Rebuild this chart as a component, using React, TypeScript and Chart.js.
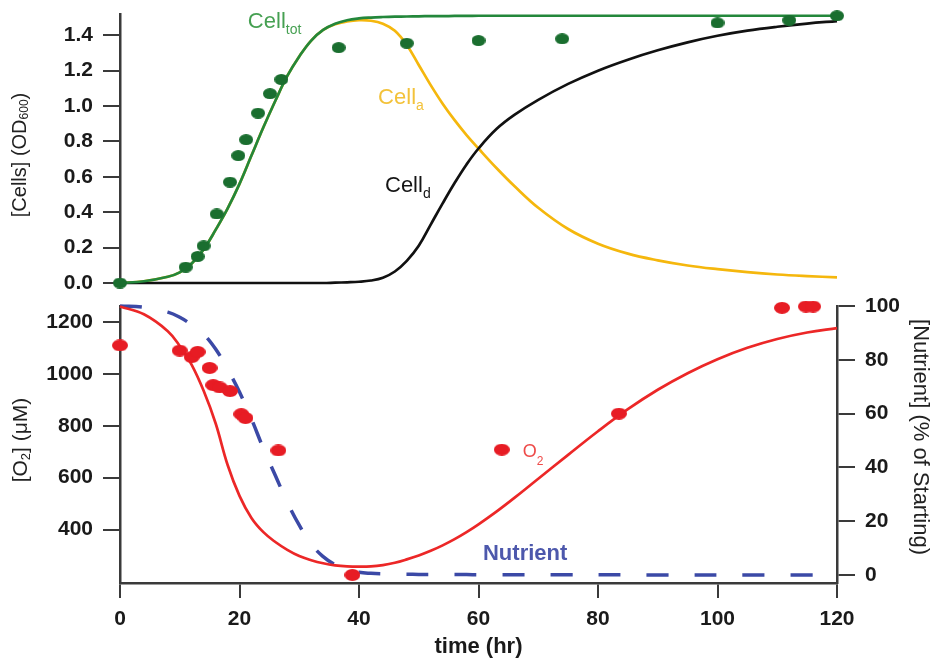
import React, { useEffect, useRef } from 'react';
import { Chart, registerables } from 'chart.js';

Chart.register(...registerables);

// ---------- DATA ----------
// model time grid (hr)
const modelTime = [0, 4, 8, 10, 12, 14, 16, 18, 20, 22, 24, 26, 28, 30, 32, 34, 36, 38, 40, 42, 44, 46, 48, 50, 52, 54, 56, 58, 60, 63, 66, 70, 75, 80, 85, 90, 95, 100, 105, 110, 115, 120];

// model curves, top panel (OD600)
const cellTotModel = [0, 0.01, 0.035, 0.06, 0.11, 0.19, 0.30, 0.42, 0.56, 0.72, 0.88, 1.03, 1.17, 1.28, 1.37, 1.43, 1.465, 1.485, 1.495, 1.5, 1.503, 1.505, 1.506, 1.507, 1.508, 1.508, 1.509, 1.509, 1.51, 1.51, 1.51, 1.51, 1.51, 1.51, 1.51, 1.51, 1.51, 1.51, 1.51, 1.51, 1.51, 1.51];
const cellAModel = [0, 0.01, 0.035, 0.06, 0.11, 0.19, 0.30, 0.42, 0.56, 0.72, 0.88, 1.03, 1.17, 1.28, 1.37, 1.43, 1.462, 1.478, 1.485, 1.482, 1.465, 1.425, 1.345, 1.232, 1.118, 1.013, 0.92, 0.836, 0.76, 0.65, 0.548, 0.425, 0.305, 0.222, 0.166, 0.128, 0.099, 0.078, 0.061, 0.048, 0.039, 0.032];
const cellDModel = [0, 0, 0, 0, 0, 0, 0, 0, 0, 0, 0, 0, 0, 0, 0, 0, 0.002, 0.004, 0.007, 0.014, 0.03, 0.065, 0.125, 0.21, 0.33, 0.45, 0.565, 0.67, 0.76, 0.87, 0.95, 1.035, 1.125, 1.2, 1.262, 1.315, 1.36, 1.397, 1.426, 1.448, 1.466, 1.48];

// model curves, bottom panel
const o2Model = [1260, 1230, 1165, 1108, 1035, 935, 810, 650, 530, 445, 390, 352, 322, 298, 282, 270, 262, 258, 257, 258, 263, 272, 285, 300, 318, 339, 363, 390, 420, 469, 522, 596, 688, 779, 864, 939, 1003, 1057, 1101, 1135, 1160, 1177];
const nutrientModel = [100, 99.5, 97.7, 95.8, 93, 89.5, 84, 76.5, 68, 58, 47, 37, 27, 18.5, 11.5, 6.8, 3.8, 2.0, 1.0, 0.6, 0.4, 0.3, 0.25, 0.2, 0.18, 0.16, 0.14, 0.12, 0.1, 0.08, 0.06, 0.05, 0.04, 0.03, 0.02, 0.02, 0.01, 0.01, 0.01, 0, 0, 0];

// measured points
const cellObsTime = [0, 11, 13, 14, 16.2, 18.4, 19.8, 21.1, 23.1, 25.1, 27, 36.6, 48, 60, 74, 100, 112, 120];
const cellObsOD = [0.0, 0.09, 0.15, 0.21, 0.39, 0.57, 0.72, 0.81, 0.96, 1.07, 1.15, 1.33, 1.355, 1.37, 1.38, 1.47, 1.485, 1.51];

const o2ObsTime = [0, 10, 12, 13, 15, 15.6, 16.7, 18.4, 20.3, 21, 26.5, 38.9, 63.9, 83.5, 110.8, 114.8, 116];
const o2ObsValue = [1110, 1090, 1065, 1085, 1023, 957, 948, 934, 845, 830, 705, 225, 708, 847, 1255, 1260, 1260];

// tick labels
const timeTicks = [0, 20, 40, 60, 80, 100, 120];
const cellTicks = [0, 0.2, 0.4, 0.6, 0.8, 1.0, 1.2, 1.4];
const o2Ticks = [400, 600, 800, 1000, 1200];
const nutrientTicks = [0, 20, 40, 60, 80, 100];

// ---------- STYLE ----------
const FONT = "'Liberation Sans', Arial, Helvetica, sans-serif";
const AXIS = '#3a3a3a';
const TEXT = '#1a1a1a';
const GREEN_LINE = '#23873b';
const GREEN_DOT = '#1a6e2f';
const YELLOW = '#f5b70d';
const BLACK = '#111111';
const RED_LINE = '#ec2727';
const RED_DOT = '#e71c24';
const BLUE = '#3b49a6';

const pts = (xs: number[], ys: number[]) => xs.map((x, i) => ({ x, y: ys[i] }));

function makeDot(color: string, w: number, h: number) {
  const c = document.createElement('canvas');
  c.width = w;
  c.height = h;
  const g = c.getContext('2d')!;
  g.fillStyle = color;
  g.beginPath();
  g.ellipse(w / 2, h / 2, w / 2, h / 2, 0, 0, Math.PI * 2);
  g.fill();
  return c;
}

type Part = [string, boolean?];
interface RichItem {
  parts: Part[];
  x: number;
  y: number;
  xScale?: string;
  yScale?: string;
  size: number;
  weight?: string;
  color: string;
  rotation?: number;
  align?: 'left' | 'center';
  baseline?: CanvasTextBaseline;
  subScale?: number;
  subOffset?: number;
}

const richTextPlugin = {
  id: 'richText',
  afterDatasetsDraw(chart: any, _args: any, opts: any) {
    const ctx: CanvasRenderingContext2D = chart.ctx;
    const items: RichItem[] = (opts && opts.items) || [];
    for (const it of items) {
      const x = it.xScale ? chart.scales[it.xScale].getPixelForValue(it.x) : it.x;
      const y = it.yScale ? chart.scales[it.yScale].getPixelForValue(it.y) : it.y;
      const w = it.weight || 'normal';
      const mainFont = `${w} ${it.size}px ${FONT}`;
      const subSize = Math.round(it.size * (it.subScale ?? 0.62));
      const subFont = `${w} ${subSize}px ${FONT}`;
      const subOff = it.subOffset ?? it.size * 0.28;
      let total = 0;
      const widths = it.parts.map(([t, s]) => {
        ctx.font = s ? subFont : mainFont;
        const m = ctx.measureText(t).width;
        total += m;
        return m;
      });
      ctx.save();
      ctx.translate(x, y);
      ctx.rotate(it.rotation || 0);
      ctx.fillStyle = it.color;
      ctx.textAlign = 'left';
      ctx.textBaseline = it.baseline || 'alphabetic';
      let cx = it.align === 'center' ? -total / 2 : 0;
      it.parts.forEach(([t, s], i) => {
        ctx.font = s ? subFont : mainFont;
        ctx.fillText(t, cx, s ? subOff : 0);
        cx += widths[i];
      });
      ctx.restore();
    }
  },
};

const tickFont = { family: FONT, size: 21, weight: 'bold' as const };

function yAxis(position: 'left' | 'right', min: number, max: number, ticks: number[], width: number, fmt: (v: number) => string, tickLen: number) {
  return {
    type: 'linear' as const,
    position,
    min,
    max,
    afterBuildTicks: (s: any) => {
      s.ticks = ticks.map((v) => ({ value: v }));
    },
    afterFit: (s: any) => {
      s.width = width;
      s.paddingTop = 0;
      s.paddingBottom = 0;
    },
    ticks: { callback: (v: any) => fmt(Number(v)), padding: 10, color: TEXT, font: tickFont },
    grid: { display: true, drawOnChartArea: false, drawTicks: true, tickLength: tickLen, tickWidth: 2, tickColor: AXIS, color: AXIS, lineWidth: 2 },
    border: { display: true, color: AXIS, width: 2.5 },
    title: { display: false },
  };
}

export default function App() {
  const topRef = useRef<HTMLCanvasElement>(null);
  const botRef = useRef<HTMLCanvasElement>(null);

  useEffect(() => {
    const greenDot = makeDot(GREEN_DOT, 14, 11);
    const redDot = makeDot(RED_DOT, 16, 12);
    const line = { pointRadius: 0, borderWidth: 2.7, tension: 0.4, clip: false as any, fill: false };

    const top = new Chart(topRef.current!, {
      type: 'line',
      data: {
        datasets: [
          { label: 'Cell tot (measured)', data: pts(cellObsTime, cellObsOD), showLine: false, pointStyle: greenDot as any, pointRadius: 7, clip: false as any },
          { label: 'Cell tot', data: pts(modelTime, cellTotModel), borderColor: GREEN_LINE, ...line },
          { label: 'Cell d', data: pts(modelTime, cellDModel), borderColor: BLACK, ...line },
          { label: 'Cell a', data: pts(modelTime, cellAModel), borderColor: YELLOW, ...line },
        ],
      },
      options: {
        responsive: false,
        animation: false,
        devicePixelRatio: 1,
        events: [],
        layout: { padding: { left: 0, right: 102, top: 14, bottom: 17 } },
        plugins: {
          legend: { display: false },
          tooltip: { enabled: false },
          richText: {
            items: [
              { parts: [['Cell'], ['tot', true]], xScale: 'x', yScale: 'y', x: 21.4, y: 1.44, size: 22, color: '#46a052', subOffset: 6 },
              { parts: [['Cell'], ['a', true]], xScale: 'x', yScale: 'y', x: 43.2, y: 1.01, size: 22, color: '#f3c23a', subOffset: 6 },
              { parts: [['Cell'], ['d', true]], xScale: 'x', yScale: 'y', x: 44.35, y: 0.514, size: 22, color: '#151515', subOffset: 6 },
              { parts: [['[Cells] (OD'], ['600', true], [')']], x: 20, y: 155, rotation: -Math.PI / 2, align: 'center', baseline: 'middle', size: 20, color: '#222', subOffset: 5 },
            ],
          },
        } as any,
        scales: {
          x: { type: 'linear', min: 0, max: 120, display: false },
          y: yAxis('left', 0, 1.52, cellTicks, 120, (v) => v.toFixed(1), 17),
        },
      },
      plugins: [richTextPlugin],
    });

    const bot = new Chart(botRef.current!, {
      type: 'line',
      data: {
        datasets: [
          { label: 'O2 (measured)', data: pts(o2ObsTime, o2ObsValue), yAxisID: 'y', showLine: false, pointStyle: redDot as any, pointRadius: 8, clip: false as any },
          { label: 'O2', data: pts(modelTime, o2Model), yAxisID: 'y', borderColor: RED_LINE, ...line },
          { label: 'Nutrient', data: pts(modelTime, nutrientModel), yAxisID: 'yR', borderColor: BLUE, borderDash: [22, 26], ...line, borderWidth: 3.5 },
        ],
      },
      options: {
        responsive: false,
        animation: false,
        devicePixelRatio: 1,
        events: [],
        layout: { padding: { left: 0, right: 0, top: 16, bottom: 0 } },
        plugins: {
          legend: { display: false },
          tooltip: { enabled: false },
          richText: {
            items: [
              { parts: [['O'], ['2', true]], xScale: 'x', yScale: 'y', x: 67.4, y: 680, size: 18, color: '#ee4a48', subScale: 0.65, subOffset: 8 },
              { parts: [['Nutrient']], xScale: 'x', yScale: 'yR', x: 60.75, y: 5.6, size: 22, weight: 'bold', color: '#4d58ac' },
              { parts: [['[O'], ['2', true], ['] (\u03bcM)']], x: 21, y: 150, rotation: -Math.PI / 2, align: 'center', baseline: 'middle', size: 21, color: '#222', subOffset: 5 },
              { parts: [['[Nutrient] (% of Starting)']], x: 920, y: 147, rotation: Math.PI / 2, align: 'center', baseline: 'middle', size: 22, color: '#222' },
            ],
          },
        } as any,
        scales: {
          x: {
            type: 'linear',
            position: 'bottom',
            min: 0,
            max: 120,
            afterBuildTicks: (s: any) => {
              s.ticks = timeTicks.map((v) => ({ value: v }));
            },
            afterFit: (s: any) => {
              s.height = 79;
              s.paddingLeft = 0;
              s.paddingRight = 0;
            },
            ticks: { padding: 9, color: TEXT, font: tickFont, maxRotation: 0, autoSkip: false },
            grid: { display: true, drawOnChartArea: false, drawTicks: true, tickLength: 15, tickWidth: 2, tickColor: AXIS, color: AXIS, lineWidth: 2 },
            border: { display: true, color: AXIS, width: 2.5 },
            title: { display: true, text: 'time (hr)', color: TEXT, font: { family: FONT, size: 22, weight: 'bold' }, padding: { top: 0, bottom: 2 } },
          },
          y: yAxis('left', 194, 1262, o2Ticks, 120, (v) => String(v), 17),
          yR: yAxis('right', -3, 100, nutrientTicks, 102, (v) => String(v), 18),
        },
      },
      plugins: [richTextPlugin],
    });

    return () => {
      top.destroy();
      bot.destroy();
    };
  }, []);

  return (
    <div style={{ position: 'absolute', left: 0, top: 0, width: 939, height: 662, background: '#fff', overflow: 'hidden' }}>
      <canvas ref={topRef} width={939} height={300} style={{ position: 'absolute', left: 0, top: 0 }} />
      <canvas ref={botRef} width={939} height={372} style={{ position: 'absolute', left: 0, top: 290 }} />
    </div>
  );
}
